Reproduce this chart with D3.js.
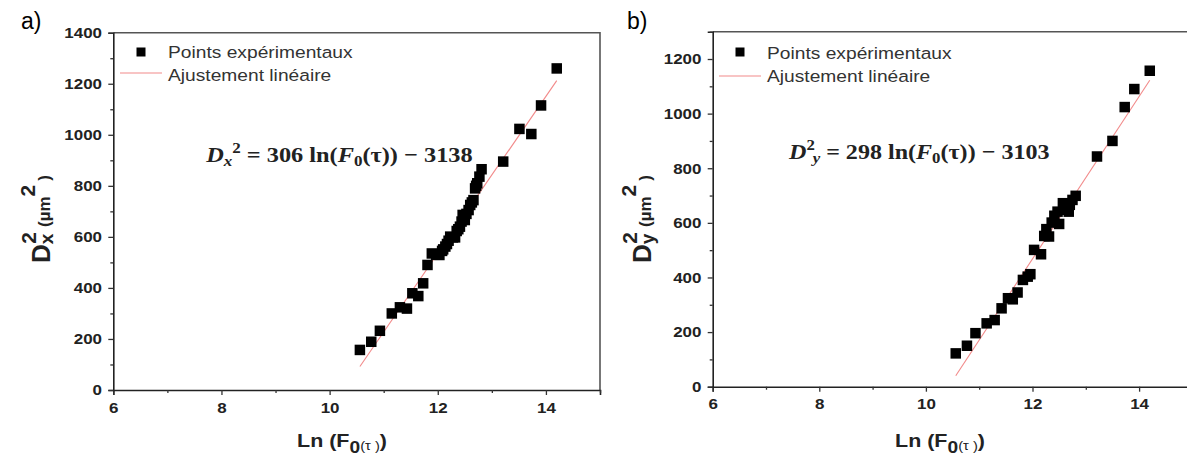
<!DOCTYPE html>
<html><head><meta charset="utf-8">
<script src="https://cdn.jsdelivr.net/npm/d3@7"></script>
<style>body{margin:0;background:#fff}svg{display:block}</style>
</head><body>
<svg id="c" width="1187" height="459"></svg>
<script>
// ---------- data ----------
const xMajorTicks = [6, 8, 10, 12, 14];
const xMinorTicks = [7, 9, 11, 13, 15];
const yMajorTicksA = [0, 200, 400, 600, 800, 1000, 1200, 1400];
const yMinorTicksA = [100, 300, 500, 700, 900, 1100, 1300];
const yMajorTicksB = [0, 200, 400, 600, 800, 1000, 1200];
const yMinorTicksB = [100, 300, 500, 700, 900, 1100, 1300];

const lnF_A = [10.56, 10.77, 10.93, 11.15, 11.30, 11.43, 11.53, 11.64, 11.73, 11.81, 11.89, 11.97, 12.03, 12.08, 12.10, 12.14, 12.17, 12.20, 12.23, 12.28, 12.32, 12.35, 12.38, 12.41, 12.44, 12.46, 12.50, 12.53, 12.57, 12.60, 12.63, 12.66, 12.69, 12.71, 12.73, 12.77, 12.81, 13.21, 13.51, 13.73, 13.91, 14.20];
const Dx2 = [157, 189, 232, 300, 324, 319, 379, 368, 418, 490, 535, 530, 529, 545, 551, 562, 572, 585, 601, 598, 598, 623, 630, 640, 660, 686, 666, 690, 705, 725, 735, 744, 790, 800, 810, 836, 865, 895, 1023, 1003, 1115, 1260];

const lnF_B = [10.56, 10.77, 10.93, 11.14, 11.29, 11.42, 11.54, 11.63, 11.72, 11.82, 11.91, 11.96, 12.03, 12.16, 12.22, 12.26, 12.31, 12.36, 12.41, 12.47, 12.50, 12.57, 12.60, 12.63, 12.68, 12.70, 12.75, 12.81, 13.21, 13.50, 13.73, 13.91, 14.20];
const Dy2 = [122, 150, 196, 232, 244, 287, 324, 320, 345, 391, 403, 412, 501, 485, 552, 577, 550, 601, 626, 641, 596, 672, 660, 648, 641, 666, 684, 699, 843, 900, 1024, 1090, 1157];

const fitX_A = [10.56, 14.20];
const fitY_A = [92, 1212];
const fitX_B = [10.56, 14.20];
const fitY_B = [40, 1122];

const legendLabels = ["Points expérimentaux", "Ajustement linéaire"];
const panelLabels = ["a)", "b)"];

// ---------- drawing ----------
const svg = d3.select("#c");
const SX = 1.13; // horizontal stretch of the reference's text
const sansB = "'Liberation Sans', Arial, sans-serif";

function panel(cfg) {
  const g = svg.append("g");
  const x = d3.scaleLinear().domain([6, 15]).range(cfg.xr);
  const y = d3.scaleLinear().domain(cfg.ydom).range(cfg.yr);
  const [x0, x1] = cfg.xr, [y0, y1] = cfg.yr;

  // frame (top and right)
  g.append("path").attr("d", `M${x0},${y1}H${x1}V${y0}`)
    .attr("fill", "none").attr("stroke", "#555").attr("stroke-width", 1.6);

  // x axis
  const ax = g.append("g").attr("transform", `translate(0,${y0})`)
    .call(d3.axisBottom(x).tickValues(xMajorTicks).tickSize(5).tickPadding(7).tickFormat(d3.format("d")));
  g.append("g").attr("transform", `translate(0,${y0})`)
    .call(d3.axisBottom(x).tickValues(xMinorTicks).tickSize(3).tickFormat(""))
    .select(".domain").remove();
  // y axis
  const ay = g.append("g").attr("transform", `translate(${x0},0)`)
    .call(d3.axisLeft(y).tickValues(cfg.yMajor).tickSize(5).tickPadding(5).tickFormat(d3.format("d")));
  g.append("g").attr("transform", `translate(${x0},0)`)
    .call(d3.axisLeft(y).tickValues(cfg.yMinor.filter(v => v <= cfg.ydom[1])).tickSize(3).tickFormat(""))
    .select(".domain").remove();
  g.selectAll(".domain").attr("stroke", "#222").attr("stroke-width", 1.6);
  g.selectAll(".tick line").attr("stroke", "#333").attr("stroke-width", 1.3);
  [ax, ay].forEach(a => a.selectAll("text")
      .attr("font-family", sansB).attr("font-weight", "bold").attr("font-size", 15)
      .attr("fill", "#222"));
  ax.selectAll("text").attr("transform", `scale(${SX},1)`);
  ay.selectAll("text").attr("transform", `scale(${SX},1)`);

  // fit line
  g.append("path").datum(cfg.fitX.map((v, i) => [v, cfg.fitY[i]]))
    .attr("d", d3.line().x(d => x(d[0])).y(d => y(d[1])))
    .attr("stroke", "#f28a8a").attr("stroke-width", 1.1).attr("fill", "none");

  // points
  const s = 10.5;
  g.selectAll("rect.pt").data(cfg.px.map((v, i) => [v, cfg.py[i]])).join("rect")
    .attr("class", "pt")
    .attr("x", d => x(d[0]) - s / 2).attr("y", d => y(d[1]) - s / 2)
    .attr("width", s).attr("height", s).attr("fill", "#000");

  // legend
  g.append("rect").attr("x", cfg.leg[0] - 4.5).attr("y", cfg.leg[1] - 4.5)
    .attr("width", 9).attr("height", 9).attr("fill", "#000");
  g.append("line").attr("x1", cfg.leg[2]).attr("x2", cfg.leg[3])
    .attr("y1", cfg.leg[4]).attr("y2", cfg.leg[4])
    .attr("stroke", "#f28a8a").attr("stroke-width", 1.2);
  legendLabels.forEach((t, i) => {
    g.append("text").attr("transform", `translate(${cfg.leg[5]},${cfg.leg[6 + i]}) scale(${SX},1)`)
      .attr("font-family", sansB).attr("font-size", 17).attr("fill", "#333").text(t);
  });

  // panel label
  g.append("text").attr("x", cfg.pl[0]).attr("y", cfg.pl[1])
    .attr("font-family", "'Liberation Sans', Arial, sans-serif").attr("font-size", 23)
    .attr("fill", "#000").text(cfg.label);

  // x axis title
  const xt = g.append("text").attr("transform", `translate(${cfg.xt[0]},${cfg.xt[1]}) scale(${SX},1)`)
    .attr("font-family", sansB).attr("font-weight", "bold").attr("font-size", 19)
    .attr("text-anchor", "middle").attr("fill", "#222");
  xt.append("tspan").text("Ln (F");
  xt.append("tspan").attr("font-size", 17).attr("dy", 6).text("0");
  xt.append("tspan").attr("font-size", 13).attr("font-weight", "normal").attr("dy", -3).text("(τ )");
  xt.append("tspan").attr("dy", -3).text(")");

  // y axis title
  const yt = g.append("text").attr("transform", `translate(${cfg.yt[0]},${cfg.yt[1]}) rotate(-90)`)
    .attr("font-family", sansB).attr("font-weight", "bold").attr("font-size", 17)
    .attr("text-anchor", "middle").attr("fill", "#222");
  yt.append("tspan").attr("font-size", 26).text("D");
  yt.append("tspan").attr("font-size", 19).attr("dy", 3).text(cfg.sub);
  yt.append("tspan").attr("font-size", 21).attr("dx", -10).attr("dy", -17).text("2");
  yt.append("tspan").attr("font-size", 17).attr("dx", 5).attr("dy", 14).text("(µm");
  yt.append("tspan").attr("font-size", 21).attr("dy", -15).text("2");
  yt.append("tspan").attr("font-size", 17).attr("dx", 4).attr("dy", 15).text(")");

  // equation
  const eq = g.append("text").attr("font-family", "'Liberation Serif', 'DejaVu Serif', serif")
    .attr("font-weight", "bold").attr("font-size", 21.5).attr("fill", "#222");
  cfg.eq(eq);
  const bb = eq.node().getBBox();
  const k = cfg.eqBox[2] / bb.width;
  eq.attr("transform", `translate(${cfg.eqBox[0]},${cfg.eqBox[1]}) scale(${k},1) translate(${-bb.x},0)`);
}

panel({
  xr: [113.3, 600], ydom: [0, 1400], yr: [390, 32.7],
  yMajor: yMajorTicksA, yMinor: yMinorTicksA,
  px: lnF_A, py: Dx2, fitX: fitX_A, fitY: fitY_A,
  leg: [141, 52, 120, 162, 73, 168, 58, 81],
  pl: [21, 29], label: panelLabels[0],
  xt: [342, 447], yt: [50, 219], sub: "x",
  eqBox: [205, 162, 268],
  eq: t => {
    t.append("tspan").attr("font-style", "italic").text("D");
    t.append("tspan").attr("font-style", "italic").attr("font-size", 15).attr("dy", 4).text("x");
    t.append("tspan").attr("font-size", 15).attr("dy", -13).text("2");
    t.append("tspan").attr("dy", 9).text(" = 306 ln(");
    t.append("tspan").attr("font-style", "italic").text("F");
    t.append("tspan").attr("font-size", 15).attr("dy", 4).text("0");
    t.append("tspan").attr("dy", -4).text("(τ)) − 3138");
  }
});

panel({
  xr: [712.7, 1192.4], ydom: [0, 1300], yr: [386.7, 31.7],
  yMajor: yMajorTicksB, yMinor: yMinorTicksB,
  px: lnF_B, py: Dy2, fitX: fitX_B, fitY: fitY_B,
  leg: [740, 52, 719, 761, 76, 767, 59, 82],
  pl: [627, 29], label: panelLabels[1],
  xt: [940, 447], yt: [651, 219], sub: "y",
  eqBox: [788, 159, 262],
  eq: t => {
    t.append("tspan").attr("font-style", "italic").text("D");
    t.append("tspan").attr("font-size", 15).attr("dy", -9).text("2");
    t.append("tspan").attr("font-style", "italic").attr("font-size", 15).attr("dx", -2).attr("dy", 13).text("y");
    t.append("tspan").attr("dy", -4).text(" = 298 ln(");
    t.append("tspan").attr("font-style", "italic").text("F");
    t.append("tspan").attr("font-size", 15).attr("dy", 4).text("0");
    t.append("tspan").attr("dy", -4).text("(τ)) − 3103");
  }
});
</script>
</body></html>
